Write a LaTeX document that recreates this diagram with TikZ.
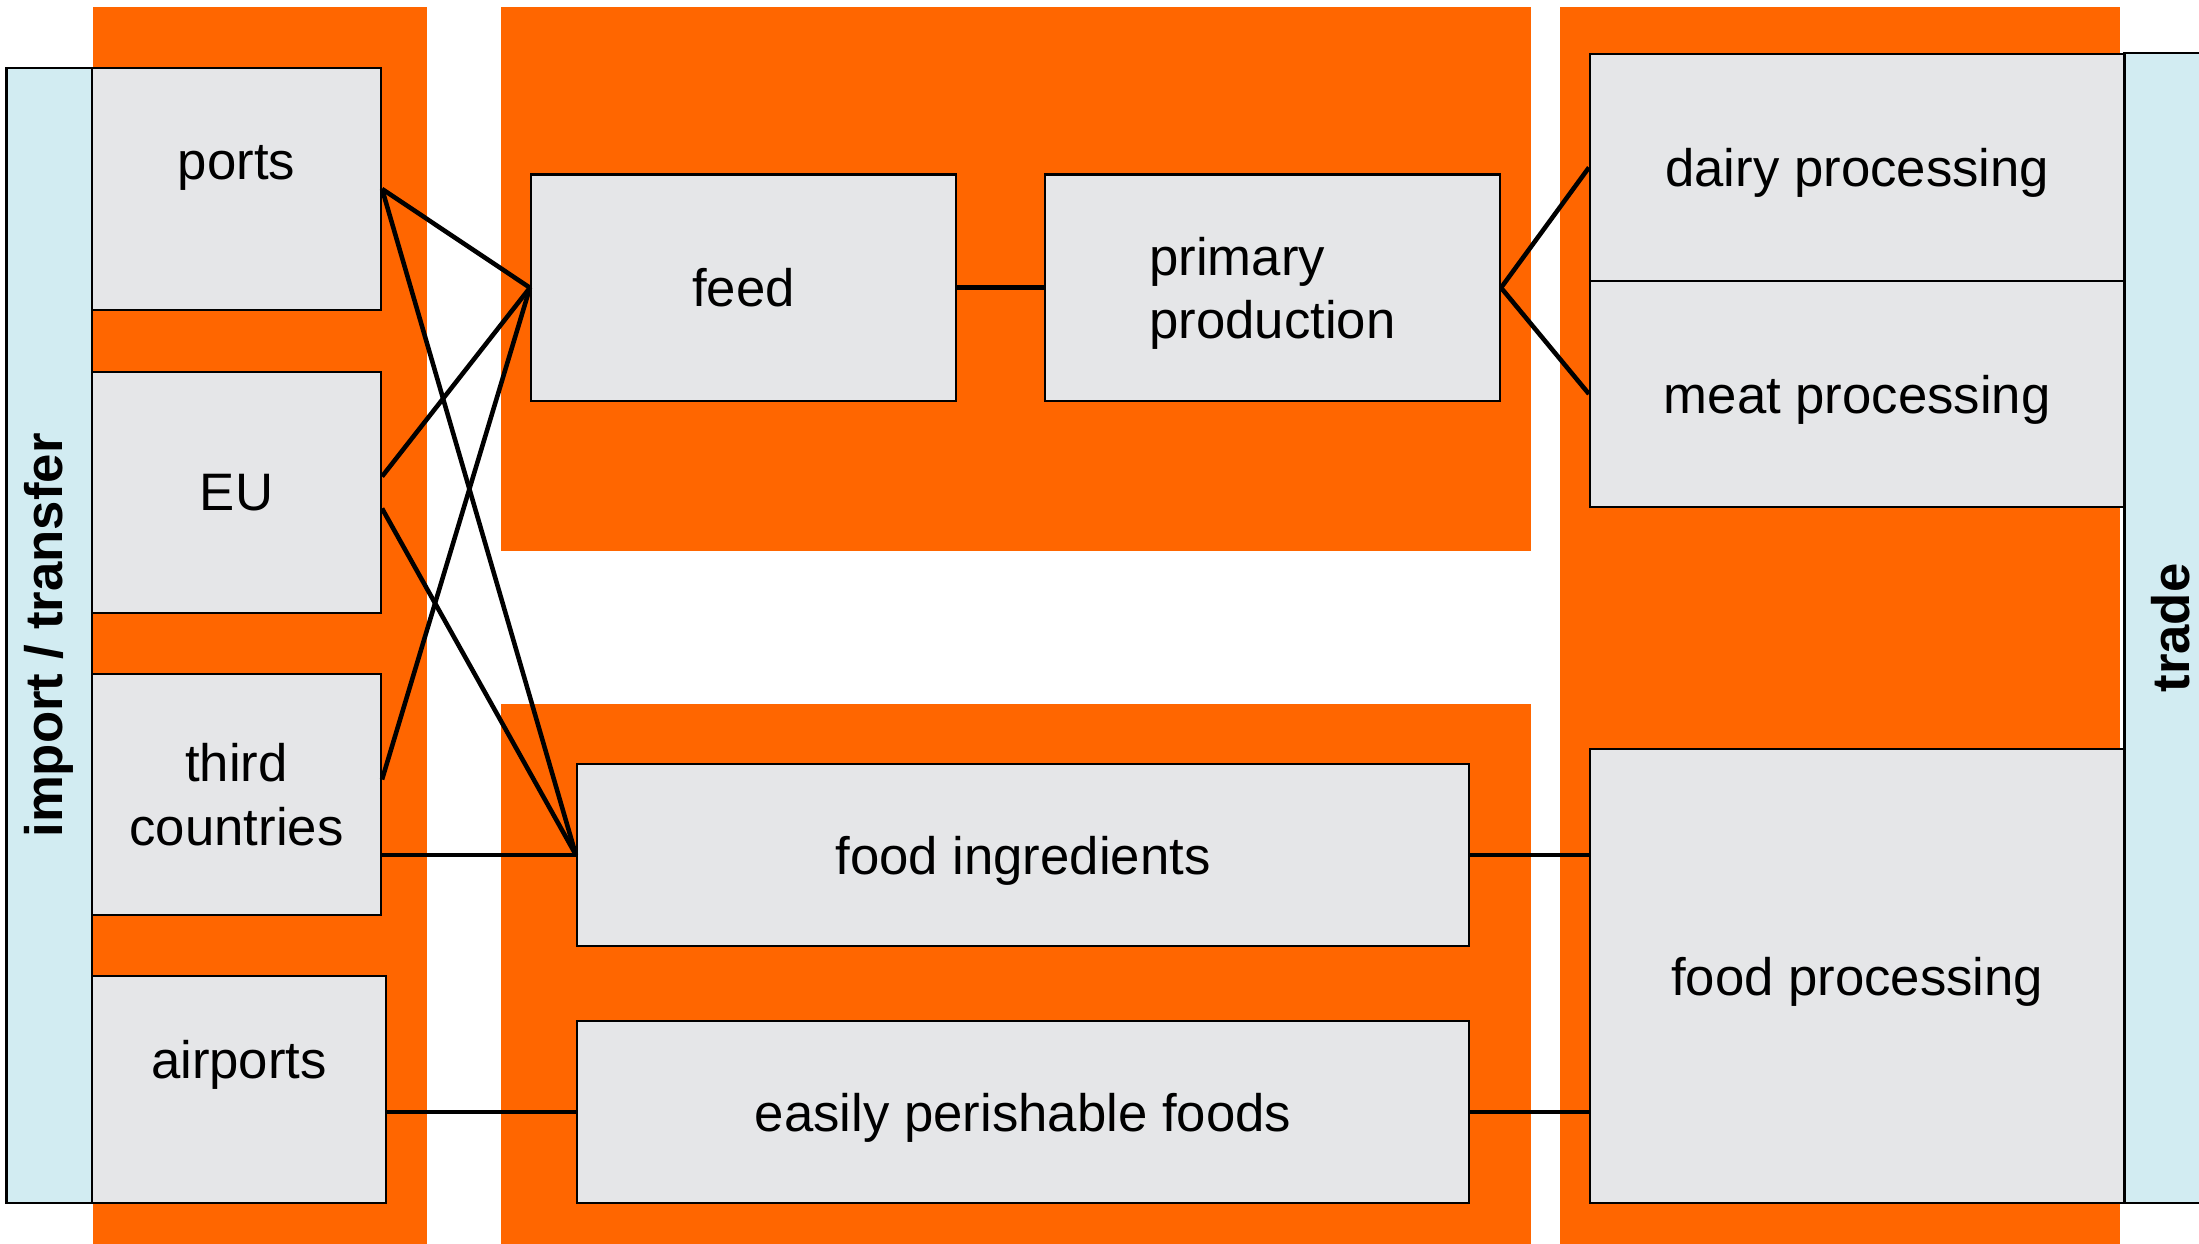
\documentclass[tikz,border=0pt]{standalone}
\usepackage{fontspec}
\setmainfont{Liberation Sans}
\usetikzlibrary{calc,positioning}
\definecolor{myOrange}{HTML}{FF6600}
\definecolor{myGrey}{HTML}{E5E6E8}
\definecolor{myBlue}{HTML}{D2ECF2}
\tikzset{
myBand/.style={fill=myOrange,draw=none}
, myBox/.style={
	rectangle,draw,fill=myGrey,line width=0.6pt,
	inner sep=0pt,text=black,align=center,text depth=0pt
}
, myBar/.style={
	rectangle,draw,fill=myBlue,line width=0.6pt,
	inner sep=0pt,rotate=90,font=\fontsize{15}{18}\selectfont\bfseries
}
% link
, myLink/.style={line width=1.3pt}
}

\begin{document}
\begin{tikzpicture}[x=0.1mm,y=-0.1mm,font=\fontsize{15}{18}\selectfont]
	\useasboundingbox (0,0) rectangle (2199,1244);
	\clip (0,0) rectangle (2199,1244);
	% orange bands
	\fill[myBand] (93,7.5) rectangle (427,1244);
	\fill[myBand] (501,7.5) rectangle (1531,551);
	\fill[myBand] (501,704) rectangle (1531,1244);
	\fill[myBand] (1560,7.5) rectangle (2120,1244);
	% side bars
	\node[myBar,minimum width=113.5mm,minimum height=8.55mm] (Import) at (49.25,635.5) {import / transfer};
	\node[myBar,minimum width=115mm,minimum height=9.25mm] (Trade) at (2170.75,628) {trade};
	% entry points
	\node[myBox,minimum width=28.9mm,minimum height=24.2mm,label={[yshift=2.1mm]center:ports}] (Ports) at (236.5,189) {};
	\node[myBox,minimum width=28.9mm,minimum height=24.1mm] (EU) at (236.5,492.5) {EU};
	\node[myBox,minimum width=28.9mm,minimum height=24.1mm] (Third) at (236.5,794.5) {third\\countries};
	\node[myBox,minimum width=29.4mm,minimum height=22.7mm,label={[yshift=2.5mm]center:airports}] (Airports) at (239,1089.5) {};
	% middle
	\node[myBox,minimum width=42.5mm,minimum height=22.65mm] (Feed) at (743.5,287.75) {feed};
	\node[myBox,minimum width=45.5mm,minimum height=22.65mm,align=left] (Primary) at (1272.5,287.75) {primary\\production};
	\node[myBox,minimum width=89.2mm,minimum height=18.2mm] (FoodIngr) at (1023,855) {food ingredients};
	\node[myBox,minimum width=89.2mm,minimum height=18.2mm] (Perish) at (1023,1112) {easily perishable foods};
	% processing
	\node[myBox,minimum width=53.45mm,minimum height=22.7mm] (Dairy) at (1857.25,167.5) {dairy processing};
	\node[myBox,minimum width=53.45mm,minimum height=22.6mm] (Meat) at (1857.25,394) {meat processing};
	\node[myBox,minimum width=53.45mm,minimum height=45.4mm] (FoodProc) at (1857.25,976) {food processing};

	% links
	\draw[myLink] (Ports.east) -- (Feed.west);
	\draw[myLink] (Ports.east) -- (FoodIngr.west);
	\draw[myLink] ([yshift=1.6mm]EU.east) -- (Feed.west);
	\draw[myLink] ([yshift=-1.6mm]EU.east) -- (FoodIngr.west);
	\draw[myLink] ([yshift=1.5mm]Third.east) -- (Feed.west);
	\draw[myLink] (Third.east |- FoodIngr.west) -- (FoodIngr.west);
	\draw[myLink] (Airports.east |- Perish.west) -- (Perish.west);
	\draw[myLink] (Feed.east) -- (Primary.west);
	\draw[myLink] (Primary.east) -- (Dairy.west);
	\draw[myLink] (Primary.east) -- (Meat.west);
	\draw[myLink] (FoodIngr.east) -- (FoodIngr.east -| FoodProc.west);
	\draw[myLink] (Perish.east) -- (Perish.east -| FoodProc.west);
\end{tikzpicture}
\end{document}
